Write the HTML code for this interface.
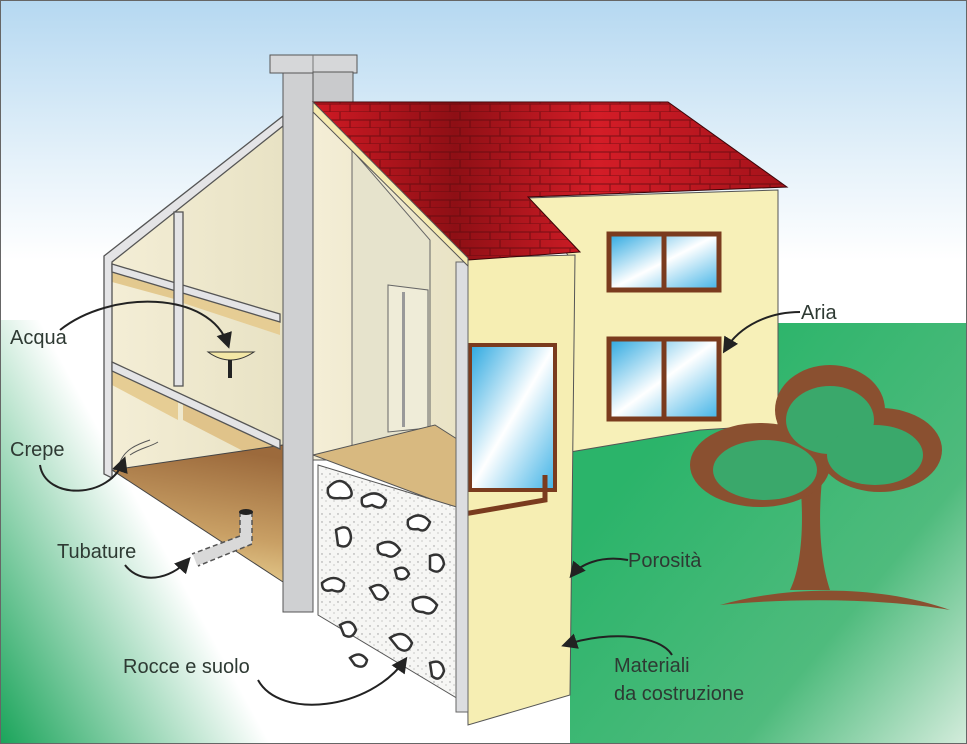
<!DOCTYPE html>
<html><head><style>
html,body{margin:0;padding:0;background:#fff}
svg{display:block}
text{font-family:"Liberation Sans",sans-serif;font-size:20px;fill:#2e3a33}
</style></head><body>
<svg width="967" height="744" viewBox="0 0 967 744" xmlns="http://www.w3.org/2000/svg">
<defs>
<linearGradient id="sky" x1="0" y1="0" x2="0" y2="1"><stop offset="0" stop-color="#b5d8f1"/><stop offset="0.22" stop-color="#e6f2fa"/><stop offset="0.35" stop-color="#ffffff"/></linearGradient>
<linearGradient id="gl" x1="0" y1="1" x2="1" y2="0.3"><stop offset="0" stop-color="#1aa45a"/><stop offset="0.55" stop-color="#ffffff"/></linearGradient>
<linearGradient id="gr" x1="0.2" y1="0.3" x2="1" y2="1"><stop offset="0" stop-color="#2bb46a"/><stop offset="0.6" stop-color="#4fbb7d"/><stop offset="1" stop-color="#d4ecdc"/></linearGradient>
<linearGradient id="glass" x1="0" y1="0" x2="1" y2="1"><stop offset="0" stop-color="#2aa7e0"/><stop offset="0.5" stop-color="#ffffff"/><stop offset="1" stop-color="#3fb2e6"/></linearGradient>
<linearGradient id="roof" x1="0" y1="0" x2="1" y2="0"><stop offset="0" stop-color="#d01a24"/><stop offset="0.3" stop-color="#8e0f15"/><stop offset="0.6" stop-color="#d41d27"/><stop offset="1" stop-color="#a3121a"/></linearGradient>
<linearGradient id="floor" x1="0.5" y1="0" x2="0.3" y2="1"><stop offset="0" stop-color="#9c6a3c"/><stop offset="0.6" stop-color="#c9a065"/><stop offset="1" stop-color="#ecd596"/></linearGradient>
<linearGradient id="wall" x1="0" y1="0" x2="1" y2="0"><stop offset="0" stop-color="#f4eed6"/><stop offset="1" stop-color="#e8e2c4"/></linearGradient>
<pattern id="tiles" width="40" height="16" patternUnits="userSpaceOnUse"><path d="M0 16H40M20 0V8M0 8H40M10 8V16M30 8V16" stroke="#5a0a0e" stroke-width="1.2" fill="none"/></pattern>
<pattern id="dots" width="8" height="8" patternUnits="userSpaceOnUse"><rect width="8" height="8" fill="#f6f6f4"/><circle cx="2" cy="2" r="0.7" fill="#999"/><circle cx="6" cy="5" r="0.6" fill="#aaa"/></pattern>
<marker id="ar" markerWidth="8" markerHeight="8" refX="6" refY="4" orient="auto"><path d="M0 0L8 4L0 8z" fill="#222"/></marker>
</defs>
<rect width="967" height="744" fill="url(#sky)"/>
<rect x="0" y="320" width="330" height="424" fill="url(#gl)"/>
<polygon points="778,323 967,323 967,744 570,744 570,452 700,430 778,425" fill="url(#gr)"/>
<!-- left section -->
<polygon points="108,258 283,118 283,445 108,470" fill="url(#wall)"/>
<polygon points="112,268 178,286 178,300 112,282" fill="#e3c98f"/>
<polygon points="183,287 280,316 280,335 183,303" fill="#e6cd94"/>
<polygon points="112,365 178,395 178,420 112,385" fill="#e6cd94"/>
<polygon points="183,397 280,440 280,470 183,420" fill="#e0c38a"/>
<polygon points="112,470 283,445 283,582" fill="url(#floor)" stroke="#444"/>
<g stroke="#555" stroke-width="1.3" fill="#e4e4e6">
<polygon points="104,256 283,116 283,126 112,262 112,478 104,474"/>
<polygon points="112,264 280,314 280,322 112,272"/>
<polygon points="112,362 280,440 280,449 112,371"/>
<rect x="174" y="212" width="9" height="174"/>
</g>
<path d="M120,462 C125,450 135,445 150,440 M130,455 C140,448 150,447 158,442" stroke="#555" fill="none"/>
<path d="M208,352 Q230,368 254,352 Z" fill="#f3e7a6" stroke="#333"/>
<rect x="228" y="360" width="4" height="18" fill="#222"/>
<path d="M246,512 V540 L195,560" stroke="#d9d9d9" stroke-width="12" fill="none"/>
<path d="M252,512 V544 L198,566 M240,512 V536 L192,554" stroke="#555" stroke-width="1.5" fill="none" stroke-dasharray="5 3"/>
<ellipse cx="246" cy="512" rx="7" ry="3" fill="#222"/>
<!-- middle section -->
<polygon points="313,105 470,258 470,460 313,460" fill="url(#wall)" stroke="#555"/>
<polygon points="352,150 352,455 430,440 430,240" fill="#e6e3cc" stroke="#666"/>
<polygon points="388,285 428,290 428,428 388,432" fill="#efecd8" stroke="#666"/>
<rect x="402" y="292" width="3" height="135" fill="#999"/>
<polygon points="313,455 435,425 540,492 460,510" fill="#d8b980" stroke="#555"/>
<polygon points="318,465 460,508 460,700 318,615" fill="url(#dots)" stroke="#555"/>
<g fill="#fff" stroke="#333" stroke-width="2.5">
<path d="M328,488 q12,-14 22,0 q6,12 -10,10 q-14,2 -12,-10z"/><path d="M362,498 q14,-10 24,2 q-2,12 -14,5 q-12,5 -10,-7z"/><path d="M408,520 q12,-10 22,2 q-4,12 -12,7 q-12,2 -10,-9z"/><path d="M336,530 q14,-8 15,8 q-2,12 -13,7z"/><path d="M378,545 q14,-8 22,5 q-7,10 -14,5 q-10,0 -8,-10z"/><path d="M430,556 q12,-5 14,8 q-4,12 -14,5z"/><path d="M322,583 q12,-10 22,0 q0,12 -12,7 q-10,3 -10,-7z"/><path d="M370,588 q12,-8 18,5 q-4,10 -12,5z"/><path d="M413,600 q14,-8 24,5 q-4,12 -14,7 q-12,0 -10,-12z"/><path d="M340,625 q12,-8 16,5 q-4,10 -12,5z"/><path d="M390,638 q14,-10 22,5 q-4,12 -14,5z"/><path d="M430,663 q12,-5 14,8 q-4,12 -12,5z"/><path d="M350,658 q10,-8 17,2 q-2,10 -12,5z"/><path d="M395,570 q10,-6 14,4 q-4,8 -12,4z"/></g>
<!-- chimney -->
<rect x="283" y="72" width="30" height="540" fill="#cfd0d2" stroke="#555"/>
<rect x="270" y="55" width="87" height="18" fill="#d6d7d9" stroke="#555"/>
<line x1="313" y1="55" x2="313" y2="73" stroke="#777"/>
<rect x="313" y="72" width="40" height="33" fill="#c9cacc" stroke="#555"/>
<!-- front right wall -->
<polygon points="527,198 778,190 778,425 700,430 570,452 570,258" fill="#f7f0b8" stroke="#555"/>
<polygon points="465,258 575,255 570,695 468,725" fill="#f6eeb3" stroke="#555"/>
<rect x="470" y="345" width="85" height="145" fill="url(#glass)" stroke="#7a3b1e" stroke-width="4"/>
<path d="M458,515 L545,500 V475" stroke="#7a3b1e" stroke-width="5" fill="none"/>
<rect x="456" y="262" width="12" height="450" fill="#dcdde0" stroke="#666"/>
<!-- roof -->
<polygon points="313,102 668,102 787,187 528,197 580,252 468,260" fill="url(#roof)" stroke="#3a0508"/>
<polygon points="313,102 668,102 787,187 528,197 580,252 468,260" fill="url(#tiles)" opacity="0.6"/>
<polygon points="313,102 468,258 468,266 313,112" fill="#f5eab0" stroke="#555"/>
<g stroke="#7a3b1e" stroke-width="5"><rect x="609" y="234" width="110" height="56" fill="url(#glass)"/><line x1="664" y1="234" x2="664" y2="290"/>
<rect x="609" y="339" width="110" height="80" fill="url(#glass)"/><line x1="664" y1="339" x2="664" y2="419"/></g>
<!-- tree -->
<g fill="#8a5030">
<path d="M800,480 C805,530 800,570 790,590 L830,590 C820,560 818,520 822,480z"/>
<ellipse cx="830" cy="410" rx="55" ry="45"/><ellipse cx="760" cy="465" rx="70" ry="42"/><ellipse cx="880" cy="450" rx="62" ry="42"/>
<path d="M720,605 C790,585 880,585 950,610 C880,598 790,598 720,605z"/></g>
<g fill="#3aa86b"><ellipse cx="830" cy="420" rx="44" ry="34"/><ellipse cx="765" cy="470" rx="52" ry="30"/><ellipse cx="875" cy="455" rx="48" ry="30"/></g>
<g stroke="#222" stroke-width="2" fill="none" marker-end="url(#ar)">
<path d="M60,330 C110,290 210,290 228,345"/>
<path d="M40,465 C45,500 110,500 124,460"/>
<path d="M125,565 C140,585 170,580 188,560"/>
<path d="M258,680 C280,720 370,710 405,660"/>
<path d="M800,312 C770,312 740,325 725,350"/>
<path d="M628,560 C600,555 580,565 572,575"/>
<path d="M672,655 C660,635 610,630 565,645"/>
</g>
<text x="10" y="344">Acqua</text>
<text x="10" y="456">Crepe</text>
<text x="57" y="558">Tubature</text>
<text x="123" y="673">Rocce e suolo</text>
<text x="801" y="319">Aria</text>
<text x="628" y="567">Porosità</text>
<text x="614" y="672">Materiali</text>
<text x="614" y="700">da costruzione</text>
<rect x="0.5" y="0.5" width="966" height="743" fill="none" stroke="#666" stroke-width="1"/>
</svg>
</body></html>
